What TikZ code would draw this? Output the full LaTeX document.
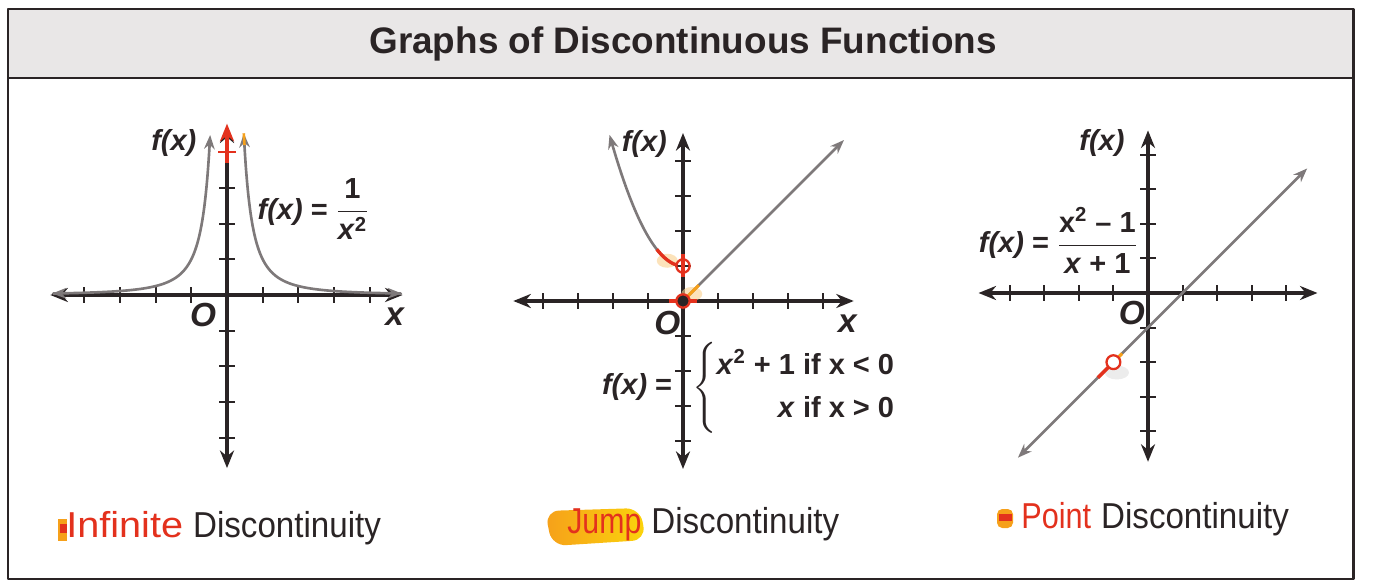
\documentclass[tikz,border=0pt]{standalone}
\usepackage{amsmath}
\usepackage{graphicx}
\usepackage{fontspec}
\setmainfont{Liberation Sans}
\usetikzlibrary{arrows.meta}
\definecolor{inkdark}{HTML}{2A2425}
\definecolor{curvegray}{HTML}{7E797A}
\definecolor{hotred}{HTML}{E3311D}
\definecolor{hotorange}{HTML}{F6A01A}
\definecolor{bandgray}{HTML}{E9E7E7}
\newcommand{\fofx}{{\bfseries\itshape f(x)}}
\newcommand{\narrow}[2]{\scalebox{#1}[1]{#2}}
\tikzset{
  frame/.style={line width=1.7pt, inkdark},
  axis/.style={line width=1.9pt, inkdark, {Stealth[length=10pt,width=8pt]}-{Stealth[length=10pt,width=8pt]}},
  tick/.style={line width=1.2pt, inkdark},
  curve/.style={line width=1.5pt, curvegray, >={Stealth[length=8pt,width=6pt]}},
  hole/.style={line width=1.3pt, hotred},
  lbl/.style={inkdark, font=\fontsize{16.5}{19}\selectfont, inner sep=1pt},
  axlbl/.style={inkdark, font=\fontsize{19}{22}\selectfont\bfseries\itshape, inner sep=1pt},
  caption/.style={inkdark, font=\fontsize{20.5}{24}\selectfont, inner sep=0pt, anchor=base west},
  title/.style={inkdark, font=\fontsize{21}{25}\selectfont\bfseries}
}
\begin{document}
\begin{tikzpicture}[x=0.02cm, y=-0.02cm, line join=round]
  \def\tk{0.22}
  \useasboundingbox (0,0) rectangle (1375,587);
  % frame and title band
  \fill[bandgray] (8,9) rectangle (1353,78);
  \draw[frame] (8,9) rectangle (1353,579);
  \draw[frame] (8,78) -- (1353,78);
  \node[title] (title) at (683,44) {Graphs of Discontinuous Functions};

  % infinite discontinuity
  \begin{scope}[shift={(227,295)}, x=0.714cm, y=0.714cm]
    \draw[axis] (-4.95,0) -- (4.92,0);
    \draw[axis] (0,-4.85) -- (0,4.75);
    \foreach \t in {-4,-3,-2,-1,1,2,3,4} {
      \draw[tick] (\t,-\tk) -- (\t,\tk);
      \draw[tick] (-\tk,\t) -- (\tk,\t);
    }
    \draw[hotred, line width=1.9pt, -{Stealth[length=10pt,width=8pt]}] (0,3.7) -- (0,4.8);
    \draw[tick, hotred] (-0.24,4) -- (0.24,4);
    \draw[curve, <->] plot[domain=-4.9:-0.47, samples=160, smooth] (\x,{1/(\x*\x)});
    \draw[curve, <->] plot[domain=0.47:4.9, samples=160, smooth] (\x,{1/(\x*\x)});
    \draw[hotorange, line width=1.5pt] (0.47,4.53) -- (0.49,4.2);
    \node[lbl, anchor=east] (fxa) at (-0.8,4.25) {\fofx};
    \node[axlbl] (oa) at (-0.67,-0.55) {O};
    \node[axlbl] (xa) at (4.7,-0.62) {x};
    \node[lbl, anchor=west] (eqa) at (0.8,2.4)
      {\fofx\ \textbf{=} $\dfrac{\textbf{1}}{\textbf{\textit{x}}^{\textbf{2}}}$};
  \end{scope}

  % jump discontinuity
  \begin{scope}[shift={(683,301)}, x=0.70cm, y=0.70cm]
    \draw[axis] (-4.85,0) -- (4.88,0);
    \draw[axis] (0,-4.8) -- (0,4.8);
    \foreach \t in {-4,-3,-2,-1,1,2,3,4} {
      \draw[tick] (\t,-\tk) -- (\t,\tk);
      \draw[tick] (-\tk,\t) -- (\tk,\t);
    }
    \fill[hotorange!50, opacity=0.6] (-0.45,1.15) ellipse (0.3 and 0.2);
    \fill[hotorange!50, opacity=0.6] (0.25,0.2) ellipse (0.3 and 0.2);
    \draw[hotred, line width=1.9pt] (0,0.7) -- (0,1.35);
    \draw[hotred, line width=1.9pt] (-0.4,0) -- (0.4,0);
    \draw[curve, <-] plot[domain=-2.1:-0.19, samples=60, smooth] (\x,{1+0.85*\x*\x});
    \draw[hotred, line width=1.9pt] plot[domain=-0.75:-0.19, samples=10, smooth] (\x,{1+0.85*\x*\x});
    \draw[curve, ->] (0.14,0.14) -- (4.6,4.6);
    \draw[hotorange, line width=1.7pt] (0.14,0.14) -- (0.45,0.45);
    \draw[hole] (0,1) circle (0.19);
    \draw[hole, fill=inkdark] (0,0) circle (0.19);
    \node[lbl, anchor=east] (fxb) at (-0.4,4.5) {\fofx};
    \node[axlbl] (ob) at (-0.45,-0.62) {O};
    \node[axlbl] (xb) at (4.7,-0.65) {x};
    \node[lbl, anchor=east] (eqb) at (-0.25,-2.47) {\fofx\ \textbf{=}};
    \node[lbl, anchor=west] (casesb) at (0.2,-2.47)
      {$\left\{\renewcommand{\arraystretch}{1.3}\begin{array}{@{}r@{}}
        \textbf{\textit{x}}^{\textbf{2}}\textbf{ + 1 if x < 0}\\
        \textbf{\textit{x} if x > 0}
      \end{array}\right.$};
  \end{scope}

  % point discontinuity
  \begin{scope}[shift={(1148,293)}, x=0.692cm, y=0.692cm]
    \draw[axis] (-4.9,0) -- (4.9,0);
    \draw[axis] (0,-4.88) -- (0,4.7);
    \foreach \t in {-4,-3,-2,-1,1,2,3,4} {
      \draw[tick] (\t,-\tk) -- (\t,\tk);
      \draw[tick] (-\tk,\t) -- (\tk,\t);
    }
    \draw[curve, <->] (-3.76,-4.76) -- (4.6,3.6);
    \fill[gray!25, opacity=0.6] (-0.9,-2.3) ellipse (0.35 and 0.2);
    \draw[hotred, line width=2pt] (-1.45,-2.45) -- (-1,-2);
    \draw[hotorange, line width=1.8pt] (-1,-2) -- (-0.75,-1.75);
    \draw[hole, fill=white] (-1,-2) circle (0.2);
    \node[lbl, anchor=east] (fxc) at (-0.62,4.33) {\fofx};
    \node[axlbl] (oc) at (-0.47,-0.58) {O};
    \node[lbl, anchor=west] (eqc) at (-4.95,1.52)
      {\fofx\ \textbf{=} $\dfrac{\textbf{x}^{\textbf{2}}\textbf{ -- 1}}{\textbf{\textit{x} + 1}}$};
  \end{scope}

  % captions
  \fill[hotorange] (58,519) rectangle (67,541);
  \fill[hotred] (60,524) rectangle (67,533);
  \shade[left color=hotorange, right color=hotorange!45!yellow, rounded corners=8pt]
    (545,511) -- (640,508) -- (646,540) -- (552,546) -- cycle;
  \fill[hotorange, rounded corners=3pt] (997,509) rectangle (1013,528);
  \fill[hotred] (999,514) rectangle (1012,521);
  \node[caption] (capa) at (66,537)
    {{\color{hotred}\narrow{1.1}{Infinite}} \narrow{0.92}{Discontinuity}};
  \node[caption] (capb) at (567,533)
    {{\color{hotred}\narrow{0.84}{Jump}} \narrow{0.92}{Discontinuity}};
  \node[caption] (capc) at (1021,528)
    {{\color{hotred}\narrow{0.85}{Point}} \narrow{0.92}{Discontinuity}};
\end{tikzpicture}
\end{document}
